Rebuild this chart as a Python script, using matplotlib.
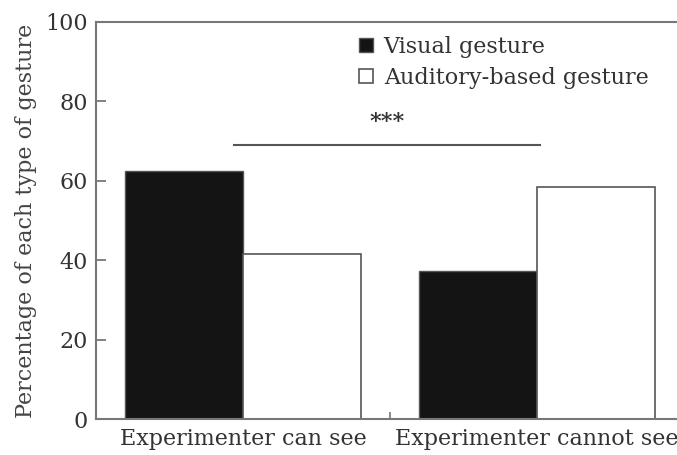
import matplotlib
matplotlib.use("Agg")
import matplotlib.pyplot as plt
import numpy as np

categories = ["Experimenter can see", "Experimenter cannot see"]
series_names = ["Visual gesture", "Auditory-based gesture"]
visual = [62.5, 37.3]
auditory = [41.6, 58.4]
yticks = [0, 20, 40, 60, 80, 100]
sig_label = "***"
sig_level = 69

plt.rcParams['font.family'] = ['DejaVu Serif']

fig = plt.figure(figsize=(6.77, 4.55), dpi=100)
ax = fig.add_axes([96/677, 36/455, 588/677, 397/455])

x = np.arange(len(categories))
w = 0.4
spine_c = '#777777'
ax.bar(x - w/2, visual, w, color='#141414', edgecolor='#555555', linewidth=1.0, label=series_names[0])
ax.bar(x + w/2, auditory, w, color='white', edgecolor='#555555', linewidth=1.2, label=series_names[1])

ax.set_xlim(-0.5, 1.5)
ax.set_ylim(0, 100)
ax.set_yticks(yticks)
ax.set_yticklabels([str(t) for t in yticks], fontsize=16, color='#333333')
ax.tick_params(axis='y', direction='in', length=7, width=1.3, color=spine_c, pad=6)

ax.set_xticks([0.5])
ax.set_xticklabels([''])
ax.tick_params(axis='x', direction='in', length=5, width=1.2, color=spine_c)
for xi, c in zip(x, categories):
    ax.text(xi, -2.2, c, ha='center', va='top', fontsize=16, color='#333333')

for s in ['left', 'bottom', 'top']:
    ax.spines[s].set_color(spine_c)
    ax.spines[s].set_linewidth(1.5)
ax.spines['right'].set_visible(False)

ax.set_ylabel("Percentage of each type of gesture", fontsize=16, color='#444444', labelpad=6)

# significance
ax.plot([-0.03, 1.01], [sig_level, sig_level], color='#555555', lw=1.5)
ax.text(0.49, sig_level + 3, sig_label, ha='center', va='bottom', fontsize=16,
        fontweight='bold', color='#333333')

leg = ax.legend(loc='upper left', bbox_to_anchor=(0.425, 0.998), frameon=False, fontsize=16,
                handlelength=0.6, handleheight=0.6, handletextpad=0.5, labelspacing=0.4,
                borderaxespad=0.2, labelcolor='#333333')

fig.savefig("out.png", dpi=100)
